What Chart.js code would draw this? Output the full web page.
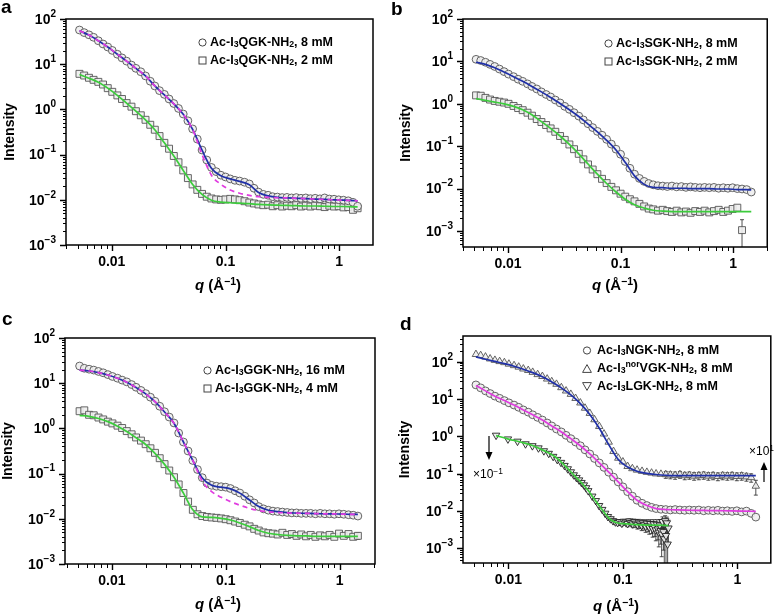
<!DOCTYPE html>
<html>
<head>
<meta charset="utf-8">
<script src="https://cdn.jsdelivr.net/npm/chart.js@4.4.1/dist/chart.umd.min.js"></script>
<style>
  body { margin: 0; width: 776px; height: 615px; position: relative; overflow: hidden; background: #fff;
         font-family: "Liberation Sans", Arial, Helvetica, sans-serif; color: #000; }
  canvas { position: absolute; }
  .letter { position: absolute; font-weight: bold; font-size: 19px; line-height: 19px; }
  .xt { position: absolute; font-weight: bold; font-size: 15px; transform: translate(-50%, -50%); white-space: nowrap; }
  .leg { position: absolute; font-weight: bold; font-size: 12.5px; white-space: nowrap; }
  .leg div { height: 18px; display: flex; align-items: center; }
  .leg svg { margin-right: 3px; flex: none; }
  .note { position: absolute; font-size: 12px; white-space: nowrap; }
  sub { font-size: 70%; vertical-align: baseline; position: relative; top: 0.25em; }
  sup { font-size: 70%; vertical-align: baseline; position: relative; top: -0.45em; }
</style>
</head>
<body>
<canvas id="chartA" width="388" height="300" style="left:0;top:0"></canvas>
<canvas id="chartB" width="388" height="300" style="left:388px;top:0"></canvas>
<canvas id="chartC" width="388" height="315" style="left:0;top:300px"></canvas>
<canvas id="chartD" width="388" height="315" style="left:388px;top:300px"></canvas>

<div class="letter" style="left:1px;top:-3px">a</div>
<div class="letter" style="left:391px;top:-1px">b</div>
<div class="letter" style="left:2px;top:309px">c</div>
<div class="letter" style="left:400px;top:314px">d</div>

<div class="xt" style="left:218px;top:284px"><i>q</i> (Å<sup>−1</sup>)</div>
<div class="xt" style="left:615px;top:284px"><i>q</i> (Å<sup>−1</sup>)</div>
<div class="xt" style="left:218px;top:603px"><i>q</i> (Å<sup>−1</sup>)</div>
<div class="xt" style="left:616px;top:605px"><i>q</i> (Å<sup>−1</sup>)</div>

<div class="leg" style="left:198px;top:33px">
  <div><svg width="9" height="9"><circle cx="4.5" cy="4.5" r="3.6" fill="#fff" stroke="#444"/></svg>Ac-I<sub>3</sub>QGK-NH<sub>2</sub>, 8 mM</div>
  <div><svg width="9" height="9"><rect x="1" y="1" width="7" height="7" fill="#fff" stroke="#444"/></svg>Ac-I<sub>3</sub>QGK-NH<sub>2</sub>, 2 mM</div>
</div>
<div class="leg" style="left:604px;top:34px">
  <div><svg width="9" height="9"><circle cx="4.5" cy="4.5" r="3.6" fill="#fff" stroke="#444"/></svg>Ac-I<sub>3</sub>SGK-NH<sub>2</sub>, 8 mM</div>
  <div><svg width="9" height="9"><rect x="1" y="1" width="7" height="7" fill="#fff" stroke="#444"/></svg>Ac-I<sub>3</sub>SGK-NH<sub>2</sub>, 2 mM</div>
</div>
<div class="leg" style="left:203px;top:361px">
  <div><svg width="9" height="9"><circle cx="4.5" cy="4.5" r="3.6" fill="#fff" stroke="#444"/></svg>Ac-I<sub>3</sub>GGK-NH<sub>2</sub>, 16 mM</div>
  <div><svg width="9" height="9"><rect x="1" y="1" width="7" height="7" fill="#fff" stroke="#444"/></svg>Ac-I<sub>3</sub>GGK-NH<sub>2</sub>, 4 mM</div>
</div>
<div class="leg" style="left:582px;top:341px">
  <div><svg width="10" height="9" style="margin-right:5px"><circle cx="5" cy="4.5" r="3.6" fill="#fff" stroke="#444"/></svg>Ac-I<sub>3</sub>NGK-NH<sub>2</sub>, 8 mM</div>
  <div><svg width="10" height="9" style="margin-right:5px"><polygon points="5,0.6 9.4,8.4 0.6,8.4" fill="#fff" stroke="#444"/></svg>Ac-I<sub>3</sub><sup>nor</sup>VGK-NH<sub>2</sub>, 8 mM</div>
  <div><svg width="10" height="9" style="margin-right:5px"><polygon points="0.6,0.6 9.4,0.6 5,8.4" fill="#fff" stroke="#444"/></svg>Ac-I<sub>3</sub>LGK-NH<sub>2</sub>, 8 mM</div>
</div>

<div class="note" style="left:473px;top:467px">×10<sup>−1</sup></div>
<div class="note" style="left:749px;top:444px">×10<sup>1</sup></div>
<svg width="776" height="615" style="position:absolute;left:0;top:0;pointer-events:none">
  <line x1="489" y1="436" x2="489" y2="453" stroke="#000" stroke-width="1.2"/>
  <polygon points="485.5,452 492.5,452 489,460" fill="#000"/>
  <line x1="764" y1="482" x2="764" y2="469" stroke="#000" stroke-width="1.2"/>
  <polygon points="760.5,470 767.5,470 764,462" fill="#000"/>
</svg>

<script>
// scattering vector grid shared by the measured curves (1/Å)
const qGrid = [0.0052, 0.00572, 0.0063, 0.00692, 0.00762, 0.00838, 0.00922, 0.0101, 0.0112, 0.0123,
  0.0135, 0.0149, 0.0163, 0.018, 0.0198, 0.0218, 0.0239, 0.0263, 0.029, 0.0319,
  0.0351, 0.0386, 0.0425, 0.0467, 0.0514, 0.0565, 0.0622, 0.0684, 0.0752, 0.0828,
  0.0911, 0.1, 0.11, 0.121, 0.133, 0.147, 0.162, 0.178, 0.195, 0.215,
  0.237, 0.26, 0.286, 0.315, 0.347, 0.381, 0.419, 0.461, 0.508, 0.558,
  0.614, 0.676, 0.744, 0.818, 0.9, 0.99, 1.09, 1.2, 1.32, 1.45];
// q values of the fitted model curves
const fitQ = [0.0052, 0.0063, 0.00762, 0.00922, 0.0112, 0.0135, 0.0163, 0.0198, 0.0239, 0.029,
  0.0351, 0.0425, 0.0514, 0.0622, 0.0752, 0.0911, 0.11, 0.133, 0.162, 0.195,
  0.237, 0.286, 0.347, 0.419, 0.508, 0.614, 0.744, 0.9, 1.09, 1.32, 1.45];

// panel a - Ac-I3QGK-NH2
const aCircles = [57.1, 50, 44.7, 39.4, 33, 28, 24, 20.2, 16.6, 13.8,
  11.7, 9.55, 8.1, 6.8, 5.5, 4.2, 3.3, 2.6, 2.15, 1.7,
  1.35, 1.05, 0.79, 0.56, 0.37, 0.22, 0.126, 0.076, 0.052, 0.042,
  0.035, 0.032, 0.029, 0.027, 0.026, 0.0245, 0.0224, 0.018, 0.0148, 0.0132,
  0.0126, 0.0117, 0.0115, 0.0112, 0.0113, 0.011, 0.0112, 0.0108, 0.011, 0.0106,
  0.0108, 0.0105, 0.011, 0.0104, 0.0103, 0.01, 0.0098, 0.0095, 0.0088, 0.0072];
const aSquares = [6.12, 5.62, 5.01, 4.51, 4.07, 3.55, 2.95, 2.45, 2.04, 1.7,
  1.38, 1.15, 0.912, 0.741, 0.589, 0.457, 0.355, 0.257, 0.182, 0.135,
  0.0933, 0.0676, 0.0447, 0.0302, 0.0219, 0.0166, 0.0135, 0.0117, 0.0107, 0.0102,
  0.01, 0.0102, 0.0105, 0.0102, 0.0098, 0.0093, 0.0087, 0.0083, 0.0079, 0.0076,
  0.0078, 0.0072, 0.0076, 0.0071, 0.0074, 0.0072, 0.0076, 0.0071, 0.0074, 0.0071,
  0.0074, 0.0072, 0.0069, 0.0074, 0.0071, 0.0072, 0.0068, 0.0069, 0.006, 0.0065];
const aFitBlue = [55, 44, 33, 24, 16.6, 11.7, 8.1, 5.5, 3.3, 2.1,
  1.33, 0.78, 0.36, 0.125, 0.05, 0.034, 0.029, 0.0255, 0.0215, 0.0145,
  0.0122, 0.0113, 0.011, 0.0108, 0.0106, 0.0104, 0.0102, 0.01, 0.0098, 0.0096, 0.0095];
const aFitMagenta = [55, 44, 33, 24, 16.6, 11.7, 8.1, 5.5, 3.3, 2.1,
  1.33, 0.78, 0.36, 0.1, 0.035, 0.022, 0.0165, 0.014, 0.0125, 0.0117,
  0.0113, 0.0111, 0.011, 0.0108, 0.0106, 0.0104, 0.0102, 0.01, 0.0098, 0.0096, 0.0095];
const aFitGreen = [5.9, 4.9, 4.0, 2.95, 2.04, 1.38, 0.912, 0.589, 0.355, 0.182,
  0.0933, 0.0447, 0.0219, 0.0132, 0.0098, 0.0089, 0.0086, 0.0084, 0.0082, 0.0079,
  0.0077, 0.0076, 0.0075, 0.0074, 0.0073, 0.0073, 0.0072, 0.0071, 0.0071, 0.007, 0.007];

// panel b - Ac-I3SGK-NH2
const bCircles = [11.2, 10.5, 9.55, 8.51, 7.59, 6.61, 5.75, 5.01, 4.37, 3.8,
  3.39, 2.95, 2.57, 2.24, 1.91, 1.66, 1.45, 1.23, 1.05, 0.871,
  0.741, 0.617, 0.513, 0.417, 0.339, 0.275, 0.224, 0.182, 0.145, 0.112,
  0.0851, 0.0646, 0.0437, 0.0302, 0.0219, 0.0174, 0.0148, 0.0132, 0.0123, 0.0117,
  0.0115, 0.0112, 0.0115, 0.011, 0.0112, 0.0107, 0.011, 0.0107, 0.0105, 0.0107,
  0.0105, 0.0107, 0.0102, 0.0105, 0.0102, 0.0105, 0.01, 0.0098, 0.0095, 0.0083];
const bSquares = [1.58, 1.55, 1.38, 1.26, 1.17, 1.12, 1.07, 1.0, 0.891, 0.794,
  0.708, 0.617, 0.525, 0.437, 0.372, 0.316, 0.263, 0.219, 0.174, 0.141,
  0.11, 0.0851, 0.0661, 0.049, 0.0372, 0.0282, 0.0219, 0.017, 0.0135, 0.011,
  0.00912, 0.00759, 0.00646, 0.00562, 0.00501, 0.00437, 0.0038, 0.00339, 0.00324, 0.00302,
  0.00316, 0.00295, 0.00282, 0.00302, 0.00275, 0.00288, 0.00269, 0.00295, 0.00282, 0.00302,
  0.00275, 0.00295, 0.00316, 0.00282, 0.00302, 0.00331, 0.00355, 0.00105];
const bSquareErr = { 57: 0.0008 };
const bFitBlue = [9.55, 8.51, 7.08, 5.62, 4.37, 3.39, 2.57, 1.91, 1.41, 1.02,
  0.724, 0.501, 0.331, 0.219, 0.138, 0.0813, 0.0417, 0.02, 0.0126, 0.0107,
  0.0105, 0.0102, 0.0102, 0.01, 0.01, 0.01, 0.0098, 0.0098, 0.0095, 0.0095, 0.0093];
const bFitGreen = [1.32, 1.2, 1.1, 1.0, 0.871, 0.724, 0.55, 0.38, 0.263, 0.174,
  0.11, 0.0661, 0.038, 0.0219, 0.0132, 0.00832, 0.00562, 0.00417, 0.00347, 0.00309,
  0.00295, 0.00288, 0.00288, 0.00288, 0.00288, 0.00288, 0.00288, 0.00288, 0.00288, 0.00288, 0.00288];

// panel c - Ac-I3GGK-NH2
const cCircles = [24.0, 21.4, 20.4, 19.5, 18.2, 17.0, 15.5, 14.1, 12.9, 11.7,
  10.7, 9.33, 8.13, 6.92, 5.89, 4.9, 3.98, 3.09, 2.34, 1.78,
  1.32, 0.79, 0.5, 0.316, 0.195, 0.123, 0.0813, 0.0617, 0.055, 0.0525,
  0.0513, 0.0501, 0.0468, 0.0417, 0.0372, 0.0316, 0.0263, 0.0224, 0.0186, 0.0166,
  0.0155, 0.0148, 0.0145, 0.0141, 0.0138, 0.0135, 0.0135, 0.0132, 0.0132, 0.0132,
  0.0129, 0.0132, 0.0129, 0.0129, 0.0126, 0.0129, 0.0126, 0.0123, 0.012, 0.0115];
const cSquares = [2.4, 2.51, 2.0, 1.95, 1.74, 1.58, 1.41, 1.29, 1.15, 1.02,
  0.871, 0.741, 0.631, 0.537, 0.447, 0.363, 0.288, 0.219, 0.162, 0.117,
  0.0832, 0.0575, 0.0372, 0.024, 0.0158, 0.0126, 0.0115, 0.011, 0.0107, 0.0105,
  0.0102, 0.0098, 0.0093, 0.0087, 0.0081, 0.0074, 0.0068, 0.006, 0.0055, 0.005,
  0.0048, 0.0047, 0.0045, 0.0049, 0.0044, 0.0046, 0.0042, 0.0045, 0.0041, 0.0044,
  0.004, 0.0043, 0.0041, 0.0044, 0.004, 0.0047, 0.0042, 0.0046, 0.004, 0.0042];
const cSquareErr = { 59: 0.0007 };
const cFitBlue = [19.5, 18.6, 17.2, 15.2, 12.9, 10.5, 8.0, 5.8, 3.9, 2.3,
  1.3, 0.5, 0.195, 0.08, 0.055, 0.05, 0.046, 0.037, 0.026, 0.0186,
  0.0155, 0.0144, 0.0137, 0.0134, 0.0132, 0.013, 0.0129, 0.0128, 0.0127, 0.0125, 0.0125];
const cFitMagenta = [19.5, 18.6, 17.2, 15.2, 12.9, 10.5, 8.0, 5.8, 3.9, 2.3,
  1.3, 0.5, 0.195, 0.068, 0.04, 0.03, 0.024, 0.02, 0.017, 0.0152,
  0.0143, 0.0138, 0.0135, 0.0133, 0.0132, 0.013, 0.0129, 0.0128, 0.0127, 0.0125, 0.0125];
const cFitGreen = [1.95, 1.85, 1.66, 1.41, 1.12, 0.85, 0.62, 0.44, 0.28, 0.16,
  0.083, 0.037, 0.0158, 0.011, 0.0107, 0.0102, 0.0094, 0.0081, 0.0067, 0.0055,
  0.0048, 0.0045, 0.0043, 0.0042, 0.0042, 0.0041, 0.0041, 0.0041, 0.0041, 0.0041, 0.0041];

// panel d - Ac-I3NGK-NH2, Ac-I3norVGK-NH2 (x10), Ac-I3LGK-NH2 (x0.1)
const dCircles = [24.0, 20.0, 16.6, 14.1, 12.0, 10.5, 9.12, 7.94, 6.92, 6.03,
  5.13, 4.47, 3.8, 3.24, 2.75, 2.29, 1.91, 1.58, 1.32, 1.07,
  0.871, 0.708, 0.562, 0.437, 0.339, 0.257, 0.195, 0.148, 0.11, 0.0813,
  0.0603, 0.0447, 0.0331, 0.0251, 0.0195, 0.0162, 0.0141, 0.0126, 0.0117, 0.0112,
  0.011, 0.0107, 0.011, 0.0107, 0.0105, 0.0107, 0.0105, 0.0107, 0.0102, 0.0105,
  0.0102, 0.0105, 0.01, 0.0102, 0.0098, 0.0102, 0.0095, 0.01, 0.0087, 0.0069];
const dTriangles = [158, 148, 135, 120, 110, 102, 95.5, 87, 79.4, 72.4,
  64.6, 58.9, 52.5, 45.7, 40.7, 34.7, 29.5, 25.1, 20.4, 16.6,
  13.5, 10.5, 7.94, 5.75, 4.17, 2.82, 1.86, 1.17, 0.708, 0.398,
  0.263, 0.209, 0.158, 0.138, 0.126, 0.117, 0.11, 0.105, 0.1, 0.0977,
  0.0955, 0.0933, 0.0912, 0.0955, 0.0891, 0.0912, 0.0871, 0.0891, 0.0912, 0.0871,
  0.0891, 0.0851, 0.0891, 0.0871, 0.0891, 0.0851, 0.0871, 0.0832, 0.0794, 0.0468];
const dTriangleErr = [0, 0, 0, 0, 0, 0, 0, 0, 0, 0, 0, 0, 0, 0, 0, 0, 0, 0, 0, 0,
  0, 0, 0, 0, 0, 0, 0, 0, 0, 0, 0, 0, 0, 0, 0, 0, 0, 0, 0, 0,
  0.02, 0.02, 0.02, 0.02, 0.02, 0.02, 0.02, 0.02, 0.02, 0.02,
  0.02, 0.02, 0.02, 0.02, 0.02, 0.02, 0.02, 0.02, 0.02, 0.02];
const dLgkQ = [0.0078, 0.0099, 0.012, 0.0141, 0.0162, 0.0183, 0.0204, 0.0225, 0.0246, 0.0267,
  0.0288, 0.0309, 0.033, 0.0351, 0.0372, 0.0393, 0.0414, 0.0435, 0.0456, 0.0477, 0.0498,
  0.054, 0.058, 0.062, 0.066, 0.07, 0.074, 0.078, 0.082, 0.086, 0.09,
  0.094, 0.098, 0.102, 0.106, 0.11, 0.114, 0.118, 0.122, 0.126, 0.13,
  0.134, 0.138, 0.142, 0.146, 0.15, 0.154, 0.158, 0.162, 0.166, 0.17,
  0.174, 0.178, 0.182, 0.186, 0.19, 0.194, 0.198, 0.202, 0.206, 0.21,
  0.214, 0.218, 0.222, 0.226, 0.23, 0.234, 0.238, 0.242, 0.246, 0.25];
const dLgk = [1.07, 0.85, 0.74, 0.63, 0.56, 0.49, 0.41, 0.35, 0.29, 0.24,
  0.2, 0.166, 0.135, 0.112, 0.093, 0.079, 0.068, 0.058, 0.05, 0.042, 0.035,
  0.025, 0.019, 0.014, 0.011, 0.0087, 0.0071, 0.0062, 0.0055, 0.0051, 0.0049,
  0.0052, 0.0047, 0.0053, 0.005, 0.0046, 0.0054, 0.0049, 0.0045, 0.0052, 0.0047,
  0.0043, 0.005, 0.0045, 0.0041, 0.0048, 0.0043, 0.0039, 0.0047, 0.0041, 0.0037,
  0.0046, 0.0039, 0.0034, 0.0045, 0.0036, 0.0031, 0.0044, 0.0033, 0.0027, 0.0042,
  0.003, 0.0024, 0.0052, 0.0028, 0.0018, 0.0055, 0.0022, 0.0048, 0.0013, 0.0035];
const dLgkErr = [0, 0, 0, 0, 0, 0, 0, 0, 0, 0, 0, 0, 0, 0, 0, 0, 0, 0, 0, 0, 0,
  0.0003, 0.0003, 0.0004, 0.0004, 0.0004, 0.0005, 0.0005, 0.0005, 0.0006, 0.0006,
  0.0007, 0.0007, 0.0007, 0.0008, 0.0008, 0.0008, 0.0009, 0.0009, 0.0009, 0.001,
  0.001, 0.001, 0.0011, 0.0011, 0.0011, 0.0012, 0.0012, 0.0012, 0.0013, 0.0013,
  0.0013, 0.0014, 0.0014, 0.0014, 0.0015, 0.0015, 0.0015, 0.0016, 0.0016, 0.0017,
  0.0017, 0.0018, 0.0018, 0.0019, 0.0019, 0.002, 0.002, 0.0021, 0.0021, 0.0022];
const dFitBlue = [135, 117, 102, 89.1, 75.9, 63.1, 51.3, 39.8, 28.8, 20.0,
  12.9, 7.59, 3.89, 1.66, 0.603, 0.24, 0.151, 0.117, 0.102, 0.0955,
  0.0912, 0.0891, 0.0891, 0.0891, 0.0891, 0.0891, 0.0891, 0.0891, 0.0891, 0.0891, 0.0891];
const dFitMagenta = [23.0, 16.6, 12.0, 9.12, 6.92, 5.13, 3.8, 2.75, 1.91, 1.32,
  0.871, 0.562, 0.339, 0.195, 0.11, 0.0603, 0.0331, 0.0195, 0.0141, 0.0117,
  0.011, 0.0108, 0.0106, 0.0105, 0.0104, 0.0103, 0.0102, 0.0101, 0.01, 0.0099, 0.0098];
const dLgkFitQ = [0.0078, 0.01, 0.013, 0.016, 0.02, 0.025, 0.03, 0.035, 0.04, 0.045,
  0.05, 0.055, 0.06, 0.065, 0.07, 0.075, 0.08, 0.09, 0.1, 0.12, 0.14, 0.17, 0.2, 0.25];
const dLgkFit = [1.05, 0.85, 0.7, 0.58, 0.43, 0.3, 0.185, 0.113, 0.074, 0.051,
  0.035, 0.023, 0.016, 0.0115, 0.0085, 0.0066, 0.0056, 0.0048, 0.0046, 0.0044, 0.0043, 0.0042, 0.0042, 0.0041];

// axis labels
const xTickValues = [0.01, 0.1, 1];
const xTickLabels = ['0.01', '0.1', '1'];

const FONT = '"Liberation Sans", Arial, Helvetica, sans-serif';
const BLUE = '#2030a8';
const MAGENTA = '#e03ce0';
const GREEN = '#3ccc3c';

Chart.defaults.font.family = FONT;

function pts(qs, vals) {
  return vals.map((v, i) => ({ x: qs[i], y: v }));
}

// 1..9 x 10^n tick marks inside the axis range
function logTicks(min, max) {
  const out = [];
  for (let e = Math.floor(Math.log10(min)); e <= Math.ceil(Math.log10(max)); e++) {
    for (let k = 1; k <= 9; k++) {
      const v = +(k * Math.pow(10, e)).toPrecision(6);
      if (v >= min * 0.9999 && v <= max * 1.0001) out.push({ value: v, major: k === 1 });
    }
  }
  return out;
}

function fitLine(data, color, dash) {
  return {
    data, showLine: true, borderColor: color, borderWidth: 1.7, borderDash: dash || [],
    pointRadius: 0, cubicInterpolationMode: 'monotone', order: 0
  };
}

function markers(data, style, extra) {
  return Object.assign({
    data, pointStyle: style, pointRadius: style === 'rect' ? 4.9 : style === 'circle' ? 3.9 : 4.3,
    pointBorderColor: '#555', pointBackgroundColor: 'rgba(238,238,238,0.9)', pointBorderWidth: 0.9,
    showLine: false, order: 1
  }, extra || {});
}

// frame, log tick marks and 10^n labels
const axesPlugin = {
  id: 'axesPlugin',
  afterDraw(chart) {
    const { ctx, chartArea: a, scales: { x, y } } = chart;
    ctx.save();
    ctx.strokeStyle = '#000';
    [true, false].forEach(major => {
      ctx.lineWidth = major ? 1.4 : 1;
      ctx.beginPath();
      x.ticks.filter(t => t.major === major).forEach(t => {
        const px = Math.round(x.getPixelForValue(t.value)) + 0.5;
        ctx.moveTo(px, a.bottom);
        ctx.lineTo(px, a.bottom + (major ? 6 : 4));
      });
      y.ticks.filter(t => t.major === major).forEach(t => {
        const py = Math.round(y.getPixelForValue(t.value)) + 0.5;
        ctx.moveTo(a.left, py);
        ctx.lineTo(a.left - (major ? 6 : 3), py);
      });
      ctx.stroke();
    });
    ctx.lineWidth = 1.5;
    ctx.strokeRect(a.left, a.top, a.right - a.left, a.bottom - a.top);

    ctx.fillStyle = '#000';
    ctx.textBaseline = 'middle';
    y.ticks.filter(t => t.major).forEach(t => {
      const py = y.getPixelForValue(t.value);
      const e = Math.round(Math.log10(t.value));
      const expText = e < 0 ? '\u2212' + (-e) : String(e);
      ctx.font = 'bold 10px ' + FONT;
      const ew = ctx.measureText(expText).width;
      const xr = a.left - 10;
      ctx.textAlign = 'left';
      ctx.fillText(expText, xr - ew, py - 5);
      ctx.font = 'bold 14px ' + FONT;
      ctx.textAlign = 'right';
      ctx.fillText('10', xr - ew, py + 1);
    });
    ctx.restore();
  }
};

// vertical error bars under the markers
const errorBars = {
  id: 'errorBars',
  beforeDatasetsDraw(chart) {
    const { ctx, chartArea: a, scales: { x, y } } = chart;
    ctx.save();
    ctx.beginPath();
    ctx.rect(a.left, a.top, a.right - a.left, a.bottom - a.top);
    ctx.clip();
    ctx.strokeStyle = '#222';
    ctx.lineWidth = 0.8;
    chart.data.datasets.forEach(ds => {
      if (!ds.err) return;
      ds.data.forEach((p, i) => {
        const e = ds.err[i];
        if (!e) return;
        const px = x.getPixelForValue(p.x);
        const top = y.getPixelForValue(p.y + e);
        const low = p.y - e > 0 ? y.getPixelForValue(p.y - e) : a.bottom + 2;
        ctx.beginPath();
        ctx.moveTo(px, top); ctx.lineTo(px, low);
        ctx.moveTo(px - 2, top); ctx.lineTo(px + 2, top);
        ctx.moveTo(px - 2, low); ctx.lineTo(px + 2, low);
        ctx.stroke();
      });
    });
    ctx.restore();
  }
};

function makePanel(id, g, datasets) {
  return new Chart(document.getElementById(id), {
    type: 'scatter',
    data: { datasets },
    options: {
      responsive: false,
      animation: false,
      devicePixelRatio: 1,
      layout: { padding: { left: 0, top: g.top, right: g.right, bottom: 0 } },
      plugins: { legend: { display: false }, tooltip: { enabled: false } },
      scales: {
        x: {
          type: 'logarithmic', min: g.xMin, max: g.xMax,
          grid: { display: false, drawTicks: false }, border: { display: false },
          afterBuildTicks: s => { s.ticks = logTicks(s.min, s.max); },
          afterFit: s => { s.height = g.xh; },
          ticks: {
            autoSkip: false, maxRotation: 0, minRotation: 0, padding: 9, color: '#000',
            font: { size: 14, weight: 'bold' },
            callback: v => {
              const k = xTickValues.findIndex(t => Math.abs(t - v) / t < 1e-6);
              return k >= 0 ? xTickLabels[k] : '';
            }
          }
        },
        y: {
          type: 'logarithmic', min: g.yMin, max: g.yMax,
          grid: { display: false, drawTicks: false }, border: { display: false },
          afterBuildTicks: s => { s.ticks = logTicks(s.min, s.max); },
          afterFit: s => { s.width = g.left; },
          ticks: { display: false },
          title: {
            display: true, text: 'Intensity', color: '#000',
            font: { size: 14, weight: 'bold' }, padding: { top: g.tp, bottom: 0 }
          }
        }
      }
    },
    plugins: [errorBars, axesPlugin]
  });
}

makePanel('chartA', { top: 19, right: 15, left: 66, xh: 55, tp: 1.6, xMin: 0.00396, xMax: 1.98, yMin: 1e-3, yMax: 100 }, [
  fitLine(pts(fitQ, aFitMagenta), MAGENTA, [5, 4]),
  fitLine(pts(fitQ, aFitBlue), BLUE),
  fitLine(pts(fitQ, aFitGreen), GREEN),
  markers(pts(qGrid, aCircles), 'circle'),
  markers(pts(qGrid, aSquares), 'rect')
]);

makePanel('chartB', { top: 19, right: 2, left: 75, xh: 53, tp: 9.6, xMin: 0.00398, xMax: 2.01, yMin: 4.2e-4, yMax: 100 }, [
  fitLine(pts(fitQ, bFitBlue), BLUE),
  fitLine(pts(fitQ, bFitGreen), GREEN),
  markers(pts(qGrid, bCircles), 'circle'),
  markers(pts(qGrid, bSquares), 'rect', { err: bSquareErr })
]);

makePanel('chartC', { top: 38, right: 13, left: 65, xh: 51, tp: 0, xMin: 0.00387, xMax: 2.05, yMin: 1e-3, yMax: 100 }, [
  fitLine(pts(fitQ, cFitMagenta), MAGENTA, [5, 4]),
  fitLine(pts(fitQ, cFitBlue), BLUE),
  fitLine(pts(fitQ, cFitGreen), GREEN),
  markers(pts(qGrid, cCircles), 'circle'),
  markers(pts(qGrid, cSquares), 'rect', { err: cSquareErr })
]);

makePanel('chartD', { top: 36, right: 1, left: 75, xh: 52, tp: 8.6, xMin: 0.00401, xMax: 1.96, yMin: 4.07e-4, yMax: 490 }, [
  fitLine(pts(fitQ, dFitBlue), BLUE),
  fitLine(pts(fitQ, dFitMagenta), MAGENTA),
  fitLine(pts(dLgkFitQ, dLgkFit), GREEN),
  markers(pts(qGrid, dTriangles), 'triangle', { err: dTriangleErr }),
  markers(pts(qGrid, dCircles), 'circle'),
  markers(pts(dLgkQ, dLgk), 'triangle', { pointRotation: 180, pointBorderColor: '#222', err: dLgkErr })
]);
</script>
</body>
</html>
